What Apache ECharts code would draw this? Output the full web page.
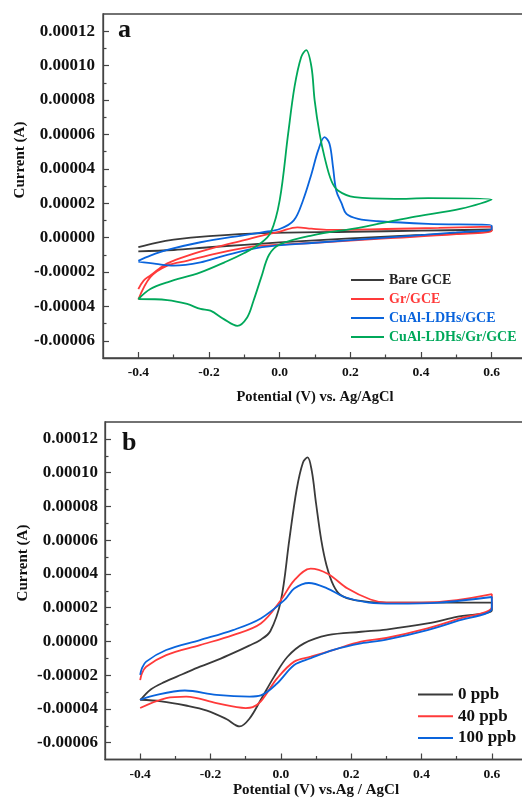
<!DOCTYPE html>
<html>
<head>
<meta charset="utf-8">
<title>Cyclic voltammograms</title>
<script src="https://cdn.jsdelivr.net/npm/echarts@6/dist/echarts.min.js"></script>
<style>
  html, body { margin: 0; padding: 0; background: #ffffff; overflow: hidden; }
  /* the plot frames run slightly past the right edge of the page */
  #chart { width: 532px; height: 803px; }
</style>
</head>
<body>
<div id="chart"></div>
<script>
// ---- tick values ----
const xTickValues = [-0.4, -0.2, 0, 0.2, 0.4, 0.6];
const xMinorValues = [-0.3, -0.1, 0.1, 0.3, 0.5];
const yTickValues = [-0.00006, -0.00004, -0.00002, 0, 0.00002, 0.00004, 0.00006, 0.00008, 0.00010, 0.00012];
const yMinorValues = [-0.00005, -0.00003, -0.00001, 0.00001, 0.00003, 0.00005, 0.00007, 0.00009, 0.00011];

// ---- panel a: electrode comparison, [potential (V), current (A)] ----
const bareGce = [
  [-0.4, -5.6e-6], [-0.35, -3.0e-6], [-0.3, -1.2e-6], [-0.2, 0.8e-6], [-0.05, 2.6e-6],
  [0.2, 3.4e-6], [0.4, 4.0e-6], [0.6, 4.7e-6],
  [0.6, 4.0e-6], [0.4, 1.5e-6], [0.2, -0.5e-6], [0.0, -2.8e-6], [-0.1, -4.2e-6],
  [-0.2, -5.6e-6], [-0.3, -7.2e-6], [-0.4, -8.0e-6]
];
const grGce = [
  [-0.4, -3.0e-5], [-0.385, -2.5e-5], [-0.366, -2.2e-5], [-0.34, -1.8e-5], [-0.318, -1.5e-5],
  [-0.26, -1.05e-5], [-0.18, -5.6e-6], [-0.1, -1.5e-6], [-0.05, 1.2e-6], [0.0, 3.5e-6],
  [0.05, 6.0e-6], [0.09, 5.2e-6], [0.14, 4.5e-6], [0.3, 5.0e-6], [0.45, 5.6e-6], [0.6, 6.4e-6],
  [0.6, 4.0e-6], [0.5, 2.0e-6], [0.3, -0.5e-6], [0.1, -3.0e-6], [-0.05, -4.7e-6],
  [-0.1, -6.0e-6], [-0.18, -9.3e-6], [-0.26, -1.34e-5], [-0.318, -1.63e-5],
  [-0.366, -2.3e-5], [-0.4, -3.6e-5]
];
const ldhGce = [
  [-0.4, -1.35e-5], [-0.366, -1.05e-5], [-0.318, -7.2e-6], [-0.224, -2.7e-6], [-0.1, 1.5e-6],
  [-0.05, 3.1e-6], [0.0, 5.0e-6], [0.04, 1.0e-5], [0.066, 2.16e-5], [0.09, 3.7e-5],
  [0.109, 5.07e-5], [0.127, 5.84e-5], [0.141, 5.46e-5], [0.151, 4.1e-5], [0.16, 2.74e-5],
  [0.175, 2.0e-5], [0.189, 1.38e-5], [0.222, 1.09e-5], [0.278, 9.5e-6], [0.42, 8.0e-6], [0.6, 7.0e-6],
  [0.6, 5.0e-6], [0.5, 3.0e-6], [0.3, 0.0], [0.1, -3.0e-6], [-0.05, -5.6e-6],
  [-0.156, -1.05e-5], [-0.224, -1.44e-5], [-0.3, -1.63e-5], [-0.35, -1.53e-5], [-0.4, -1.4e-5]
];
const ldhGrGce = [
  [-0.4, -3.57e-5], [-0.366, -2.99e-5], [-0.318, -2.6e-5], [-0.224, -2.02e-5], [-0.156, -1.44e-5],
  [-0.1, -9.0e-6], [-0.052, -3.0e-6], [-0.025, 3.0e-6], [0.0, 2.16e-5], [0.024, 6.04e-5],
  [0.042, 8.76e-5], [0.061, 1.05e-4], [0.075, 1.09e-4], [0.09, 9.92e-5], [0.099, 7.98e-5],
  [0.113, 6.04e-5], [0.127, 4.68e-5], [0.146, 3.32e-5], [0.165, 2.74e-5], [0.212, 2.35e-5],
  [0.325, 2.25e-5], [0.42, 2.29e-5], [0.6, 2.21e-5],
  [0.514, 1.68e-5], [0.372, 1.18e-5], [0.231, 6.0e-6], [0.09, 1.2e-6], [0.0, -4.0e-6],
  [-0.03, -1.0e-5], [-0.052, -2.3e-5], [-0.074, -3.67e-5], [-0.092, -4.64e-5], [-0.12, -5.13e-5],
  [-0.158, -4.74e-5], [-0.196, -4.25e-5], [-0.224, -4.15e-5], [-0.262, -3.86e-5],
  [-0.318, -3.63e-5], [-0.4, -3.57e-5]
];

// ---- panel b: concentration series ----
const ppb0 = [
  [-0.4, -3.5e-5], [-0.37, -2.85e-5], [-0.33, -2.4e-5], [-0.28, -1.95e-5], [-0.23, -1.5e-5],
  [-0.18, -1.1e-5], [-0.136, -7.0e-6], [-0.09, -2.5e-6], [-0.057, 1.0e-6], [-0.03, 6.0e-6],
  [0.0, 2.4e-5], [0.024, 6.0e-5], [0.045, 9.0e-5], [0.063, 1.06e-4], [0.076, 1.09e-4],
  [0.088, 1.01e-4], [0.1, 8.2e-5], [0.115, 6.0e-5], [0.13, 4.5e-5], [0.15, 3.3e-5],
  [0.17, 2.75e-5], [0.21, 2.45e-5], [0.3, 2.3e-5], [0.42, 2.3e-5], [0.6, 2.3e-5],
  [0.6, 1.85e-5], [0.5, 1.45e-5], [0.417, 1.06e-5], [0.3, 7.0e-6], [0.228, 5.7e-6],
  [0.133, 3.7e-6], [0.066, -1.2e-6], [0.019, -9.1e-6], [-0.019, -2.09e-5], [-0.057, -3.46e-5],
  [-0.09, -4.6e-5], [-0.117, -5.04e-5], [-0.155, -4.6e-5], [-0.21, -4.1e-5], [-0.27, -3.8e-5],
  [-0.34, -3.55e-5], [-0.4, -3.46e-5]
];
const ppb40 = [
  [-0.4, -2.3e-5], [-0.395, -1.9e-5], [-0.383, -1.5e-5], [-0.326, -8.1e-6], [-0.23, -2.2e-6],
  [-0.136, 3.7e-6], [-0.057, 1.06e-5], [0.0, 2.44e-5], [0.038, 3.62e-5], [0.085, 4.31e-5],
  [0.133, 4.01e-5], [0.19, 3.13e-5], [0.255, 2.48e-5], [0.3, 2.3e-5], [0.4, 2.3e-5],
  [0.5, 2.45e-5], [0.6, 2.8e-5],
  [0.6, 2.04e-5], [0.5, 1.3e-5], [0.417, 7.7e-6], [0.3, 2.0e-6], [0.228, -2.0e-7],
  [0.15, -5.0e-6], [0.085, -9.1e-6], [0.038, -1.2e-5], [-0.01, -2.18e-5], [-0.057, -3.56e-5],
  [-0.08, -3.9e-5], [-0.1, -3.95e-5], [-0.183, -3.66e-5], [-0.269, -3.27e-5],
  [-0.326, -3.36e-5], [-0.4, -3.95e-5]
];
const ppb100 = [
  [-0.4, -1.99e-5], [-0.395, -1.6e-5], [-0.383, -1.2e-5], [-0.326, -5.1e-6], [-0.23, 0.8e-6],
  [-0.136, 6.7e-6], [-0.057, 1.36e-5], [0.01, 2.44e-5], [0.038, 3.13e-5], [0.08, 3.46e-5],
  [0.133, 3.13e-5], [0.18, 2.63e-5], [0.25, 2.3e-5], [0.322, 2.24e-5], [0.45, 2.3e-5],
  [0.6, 2.63e-5],
  [0.6, 1.95e-5], [0.5, 1.2e-5], [0.417, 6.7e-6], [0.3, 1.0e-6], [0.228, -1.2e-6],
  [0.15, -5.0e-6], [0.085, -1.0e-5], [0.038, -1.4e-5], [-0.01, -2.48e-5], [-0.057, -3.2e-5],
  [-0.089, -3.27e-5], [-0.183, -3.17e-5], [-0.273, -2.91e-5], [-0.373, -3.27e-5], [-0.4, -3.46e-5]
];

const SERIF = "'Liberation Serif', 'Times New Roman', serif";
const AXIS_COLOR = '#444';
const TEXT_COLOR = '#111';
const C_BLACK = '#3a3a3a', C_RED = '#ff3a3a', C_BLUE = '#0a64dc', C_GREEN = '#00a85a';

function mainX(gridIndex, name, nameGap, nameSize) {
  return {
    type: 'value', gridIndex, position: 'bottom', min: -0.5, max: 0.7,
    axisLine: { show: true, onZero: false, lineStyle: { color: AXIS_COLOR, width: 1.3 } },
    axisTick: { show: true, inside: true, length: 6, customValues: xTickValues,
                lineStyle: { color: AXIS_COLOR, width: 1.2 } },
    axisLabel: { customValues: xTickValues, formatter: v => v.toFixed(1), margin: 8,
                 fontFamily: SERIF, fontWeight: 'bold', fontSize: 13.5, color: TEXT_COLOR },
    splitLine: { show: false },
    name, nameLocation: 'middle', nameGap,
    nameTextStyle: { fontFamily: SERIF, fontWeight: 'bold', fontSize: nameSize, color: TEXT_COLOR }
  };
}
// second, label-free axis that only carries the short minor ticks
function minorX(gridIndex) {
  return {
    type: 'value', gridIndex, position: 'bottom', min: -0.5, max: 0.7,
    axisLine: { show: false, onZero: false },
    axisTick: { show: true, inside: true, length: 3.5, customValues: xMinorValues,
                lineStyle: { color: AXIS_COLOR, width: 1.2 } },
    axisLabel: { show: false }, splitLine: { show: false }
  };
}
function mainY(gridIndex, labelMargin) {
  return {
    type: 'value', gridIndex, position: 'left', min: -0.00007, max: 0.00013,
    axisLine: { show: true, onZero: false, lineStyle: { color: AXIS_COLOR, width: 1.3 } },
    axisTick: { show: true, inside: true, length: 6, customValues: yTickValues,
                lineStyle: { color: AXIS_COLOR, width: 1.2 } },
    axisLabel: { customValues: yTickValues, formatter: v => v.toFixed(5), margin: labelMargin,
                 fontFamily: SERIF, fontWeight: 'bold', fontSize: 17, color: TEXT_COLOR },
    splitLine: { show: false }
  };
}
function minorY(gridIndex) {
  return {
    type: 'value', gridIndex, position: 'left', min: -0.00007, max: 0.00013,
    axisLine: { show: false, onZero: false },
    axisTick: { show: true, inside: true, length: 3.5, customValues: yMinorValues,
                lineStyle: { color: AXIS_COLOR, width: 1.2 } },
    axisLabel: { show: false }, splitLine: { show: false }
  };
}
function curve(name, data, color, panel) {
  return {
    type: 'line', name, data, xAxisIndex: panel, yAxisIndex: panel,
    showSymbol: false, symbol: 'none', smooth: 0.35,
    lineStyle: { color, width: 1.8 }, itemStyle: { color }
  };
}
function legendItem(name, color) {
  return { name, textStyle: { color } };
}

const chart = echarts.init(document.getElementById('chart'), null, { renderer: 'canvas' });
chart.setOption({
  animation: false,
  backgroundColor: '#ffffff',
  grid: [
    { left: 103, top: 14, width: 424, height: 344, show: true, borderColor: AXIS_COLOR, borderWidth: 1.3 },
    { left: 105, top: 422, width: 422, height: 337.5, show: true, borderColor: AXIS_COLOR, borderWidth: 1.3 }
  ],
  xAxis: [
    mainX(0, 'Potential (V) vs. Ag/AgCl', 32, 14.5),
    mainX(1, 'Potential (V) vs.Ag / AgCl', 23, 15),
    minorX(0), minorX(1)
  ],
  yAxis: [mainY(0, 8), mainY(1, 7), minorY(0), minorY(1)],
  legend: [
    {
      orient: 'vertical', left: 351, top: 273, padding: 0, itemGap: 5,
      icon: 'rect', itemWidth: 33, itemHeight: 2,
      textStyle: { fontFamily: SERIF, fontWeight: 'bold', fontSize: 14 },
      data: [legendItem('Bare GCE', '#222'), legendItem('Gr/GCE', C_RED),
             legendItem('CuAl-LDHs/GCE', C_BLUE), legendItem('CuAl-LDHs/Gr/GCE', C_GREEN)]
    },
    {
      orient: 'vertical', left: 418, top: 686, padding: 0, itemGap: 4.7,
      icon: 'rect', itemWidth: 35, itemHeight: 2,
      textStyle: { fontFamily: SERIF, fontWeight: 'bold', fontSize: 17, color: TEXT_COLOR },
      data: ['0 ppb', '40 ppb', '100 ppb']
    }
  ],
  graphic: [
    { type: 'text', left: 118, top: 17, style: { text: 'a', font: "bold 26px " + SERIF, fill: TEXT_COLOR } },
    { type: 'text', left: 122, top: 430, style: { text: 'b', font: "bold 26px " + SERIF, fill: TEXT_COLOR } },
    { type: 'text', x: 20, y: 160, rotation: Math.PI / 2,
      style: { text: 'Current (A)', font: "bold 15px " + SERIF, fill: TEXT_COLOR, align: 'center', verticalAlign: 'middle' } },
    { type: 'text', x: 23, y: 563, rotation: Math.PI / 2,
      style: { text: 'Current (A)', font: "bold 15px " + SERIF, fill: TEXT_COLOR, align: 'center', verticalAlign: 'middle' } }
  ],
  series: [
    curve('Bare GCE', bareGce, C_BLACK, 0),
    curve('Gr/GCE', grGce, C_RED, 0),
    curve('CuAl-LDHs/GCE', ldhGce, C_BLUE, 0),
    curve('CuAl-LDHs/Gr/GCE', ldhGrGce, C_GREEN, 0),
    curve('0 ppb', ppb0, C_BLACK, 1),
    curve('40 ppb', ppb40, C_RED, 1),
    curve('100 ppb', ppb100, C_BLUE, 1)
  ]
});
</script>
</body>
</html>
